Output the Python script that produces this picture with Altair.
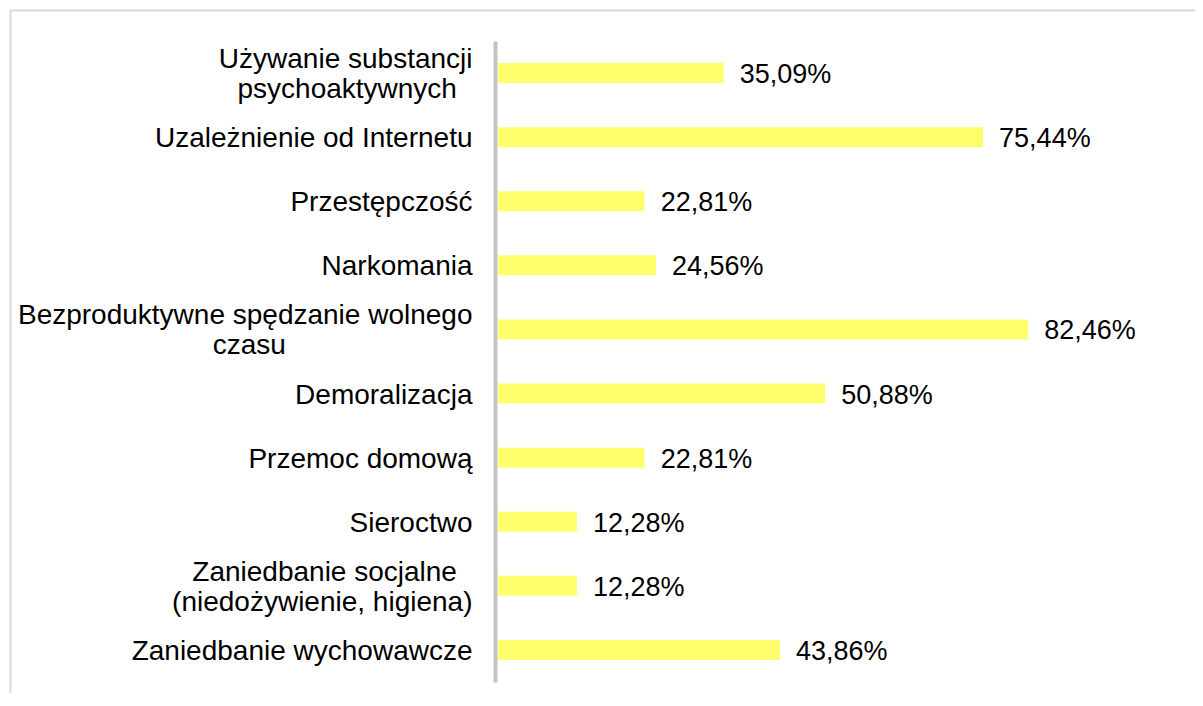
import altair as alt
import pandas as pd

NB = "\u00a0"
ZW = "\u200b"
categories = [
    "Używanie substancji|psychoaktywnych" + NB * 2 + ZW,
    "Uzależnienie od Internetu",
    "Przestępczość",
    "Narkomania",
    "Bezproduktywne spędzanie wolnego|czasu" + NB * 24 + ZW,
    "Demoralizacja",
    "Przemoc domową",
    "Sieroctwo",
    "Zaniedbanie socjalne" + NB * 2 + ZW + "|(niedożywienie, higiena)",
    "Zaniedbanie wychowawcze",
]
values = [35.09, 75.44, 22.81, 24.56, 82.46, 50.88, 22.81, 12.28, 12.28, 43.86]

df = pd.DataFrame({"category": categories, "value": values})

FONT = "Liberation Sans"

y = alt.Y(
    "category:N",
    sort=categories,
    title=None,
    scale=alt.Scale(paddingInner=0, paddingOuter=0),
    axis=alt.Axis(
        labelExpr="split(datum.label, '|')",
        ticks=False,
        grid=False,
        domainColor="#C4C4C4",
        domainWidth=4,
        offset=3,
        labelPadding=23,
        labelFont=FONT,
        labelFontSize=28,
        labelColor="#000000",
        labelLineHeight=30,
        labelLimit=0,
        labelOffset={
            "condition": {"test": "indexof(datum.label, '|') >= 0", "value": -13},
            "value": 2,
        },
    ),
)
x = alt.X("value:Q", scale=alt.Scale(domain=[0, 100]), axis=None)

border = alt.Chart(pd.DataFrame({"k": [0]})).mark_rect(
    fill="#ffffff", fillOpacity=0, stroke="#D9D9D9", strokeWidth=2
).encode(
    x=alt.value(-487.5), x2=alt.value(3000), y=alt.value(-30.5), y2=alt.value(3000)
)

bars = alt.Chart(df).mark_bar(size=20, color="#FFFF6E").encode(x=x, y=y)

labels = (
    alt.Chart(df)
    .transform_calculate(lbl="replace(format(datum.value, '.2f'), '.', ',') + '%'")
    .mark_text(align="left", baseline="middle", dx=16, dy=2, font=FONT, fontSize=27, color="#000000")
    .encode(x=x, y=y, text="lbl:N")
)

chart = (
    alt.layer(border, bars, labels)
    .properties(
        width=643,
        height=641,
        autosize=alt.AutoSizeParams(type="none"),
        padding={"left": 490, "top": 33, "right": 54, "bottom": 11},
        background="#ffffff",
    )
    .configure_view(stroke=None)
)

chart.save("out.html", embed_options={"renderer": "svg", "actions": False})
